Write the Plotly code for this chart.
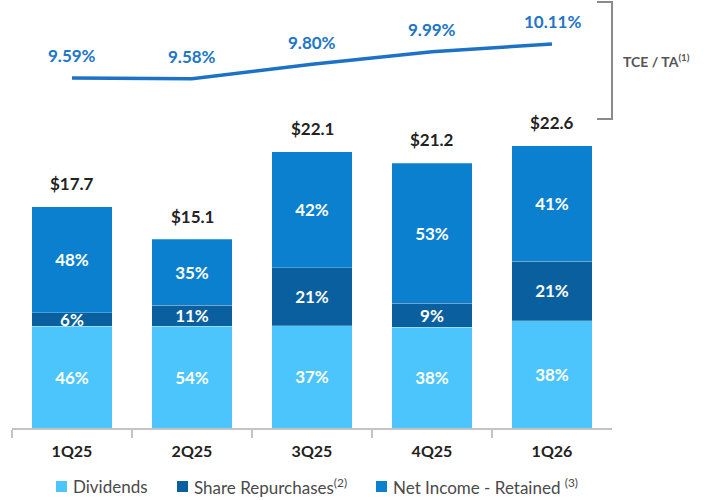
import plotly.graph_objects as go

# Quarterly capital deployment ($ totals) and its split by use (%)
quarters = ["1Q25", "2Q25", "3Q25", "4Q25", "1Q26"]
totals = [17.7, 15.1, 22.1, 21.2, 22.6]
dividends_pct = [46, 54, 37, 38, 38]
repurchases_pct = [6, 11, 21, 9, 21]
retained_pct = [48, 35, 42, 53, 41]
# Tangible common equity / tangible assets (%)
tce_ta = [9.59, 9.58, 9.80, 9.99, 10.11]

W, H = 714, 500
FONT = "Lato"

c_div = "#4cc5fd"
c_rep = "#0a609f"
c_ret = "#0b80cf"
c_line = "#1d72c6"


def px_y(p):
    """Pixel row (from top) to paper fraction."""
    return 1 - p / H


def px_x(p):
    return p / W


def seg(pcts):
    return [t * p / 100 for t, p in zip(totals, pcts)]


fig = go.Figure()

series = [
    ("Dividends", dividends_pct, c_div),
    ("Share Repurchases<sup>(2)</sup>", repurchases_pct, c_rep),
    ("Net Income - Retained <sup>(3)</sup>", retained_pct, c_ret),
]
for name, pcts, color in series:
    fig.add_trace(go.Bar(
        x=quarters, y=seg(pcts), name=name, showlegend=False,
        marker=dict(color=color, line=dict(color="rgba(255,255,255,0.25)", width=1)),
        text=[f"{p}%" for p in pcts],
        textposition="inside", insidetextanchor="middle",
        textfont=dict(family=FONT, size=17, color="white", weight="bold"),
        hoverinfo="skip",
    ))

fig.add_trace(go.Scatter(
    x=quarters, y=tce_ta, yaxis="y2", mode="lines",
    line=dict(color=c_line, width=3.5), showlegend=False, hoverinfo="skip",
))

annotations = []
for q, t in zip(quarters, totals):
    annotations.append(dict(
        x=q, y=t, xref="x", yref="y", text=f"${t:.1f}", showarrow=False,
        yshift=23, font=dict(family=FONT, size=17, color="#222222", weight="bold"),
    ))
for q, v in zip(quarters, tce_ta):
    annotations.append(dict(
        x=q, y=v, xref="x", yref="y2", text=f"{v:.2f}%", showarrow=False,
        yshift=22, font=dict(family=FONT, size=17, color="#2176c7", weight="bold"),
    ))
annotations.append(dict(
    x=px_x(621), y=px_y(60), xref="paper", yref="paper", xanchor="left",
    yanchor="middle", text="TCE / TA<sup>(1)</sup>", showarrow=False,
    font=dict(family=FONT, size=14, color="#555555", weight="bold"),
))

# Legend drawn as colour swatches with labels
legend_items = [
    ("Dividends", c_div, 56),
    ("Share Repurchases<sup>(2)</sup>", c_rep, 177),
    ("Net Income - Retained <sup>(3)</sup>", c_ret, 376),
]
shapes = []
for label, color, x0 in legend_items:
    shapes.append(dict(
        type="rect", xref="paper", yref="paper",
        x0=px_x(x0), x1=px_x(x0 + 11), y0=px_y(492), y1=px_y(481),
        fillcolor=color, line=dict(width=0),
    ))
    annotations.append(dict(
        x=px_x(x0 + 15), y=px_y(486), xref="paper", yref="paper",
        xanchor="left", yanchor="middle", text=label, showarrow=False,
        font=dict(family=FONT, size=17, color="#4a4a4a"),
    ))

# Bracket grouping the ratio line
shapes.append(dict(
    type="path", xref="paper", yref="paper",
    path=(f"M {px_x(597)},{px_y(2)} L {px_x(612)},{px_y(2)} "
          f"L {px_x(612)},{px_y(119)} L {px_x(597)},{px_y(119)}"),
    line=dict(color="#8a8a8a", width=2),
))

# Bar axis: baseline at row 428, 12.5 px per $1
bar_bottom, bar_top = 428, 40
bar_range = [0, (bar_bottom - bar_top) / 12.5]
# Ratio axis shares the bar axis domain: 9.59% at row 78, 65.4 px per point
line_scale = 65.4
y2_range = [9.59 - (bar_bottom - 78) / line_scale, 9.59 + (78 - bar_top) / line_scale]

fig.update_layout(
    width=W, height=H, margin=dict(l=0, r=0, t=0, b=0),
    paper_bgcolor="white", plot_bgcolor="white",
    barmode="stack", bargap=0.333,
    font=dict(family=FONT),
    uniformtext=dict(minsize=17, mode="show"),
    showlegend=False,
    xaxis=dict(
        domain=[px_x(12), px_x(612)], range=[-0.5, 4.5],
        showline=True, linecolor="#c4c4c4", linewidth=1.5,
        ticks="outside", tickson="boundaries", ticklen=8, tickcolor="#c4c4c4",
        tickwidth=1.5, showgrid=False, ticklabelstandoff=8,
        tickfont=dict(family=FONT, size=16, color="#222222", weight="bold"),
        fixedrange=True,
    ),
    yaxis=dict(
        domain=[px_y(bar_bottom), px_y(bar_top)], range=bar_range,
        visible=False, showgrid=False, zeroline=False,
    ),
    yaxis2=dict(
        range=y2_range, overlaying="y", anchor="x",
        visible=False, showgrid=False, zeroline=False,
    ),
    annotations=annotations,
    shapes=shapes,
)

fig.write_html("out.html")
